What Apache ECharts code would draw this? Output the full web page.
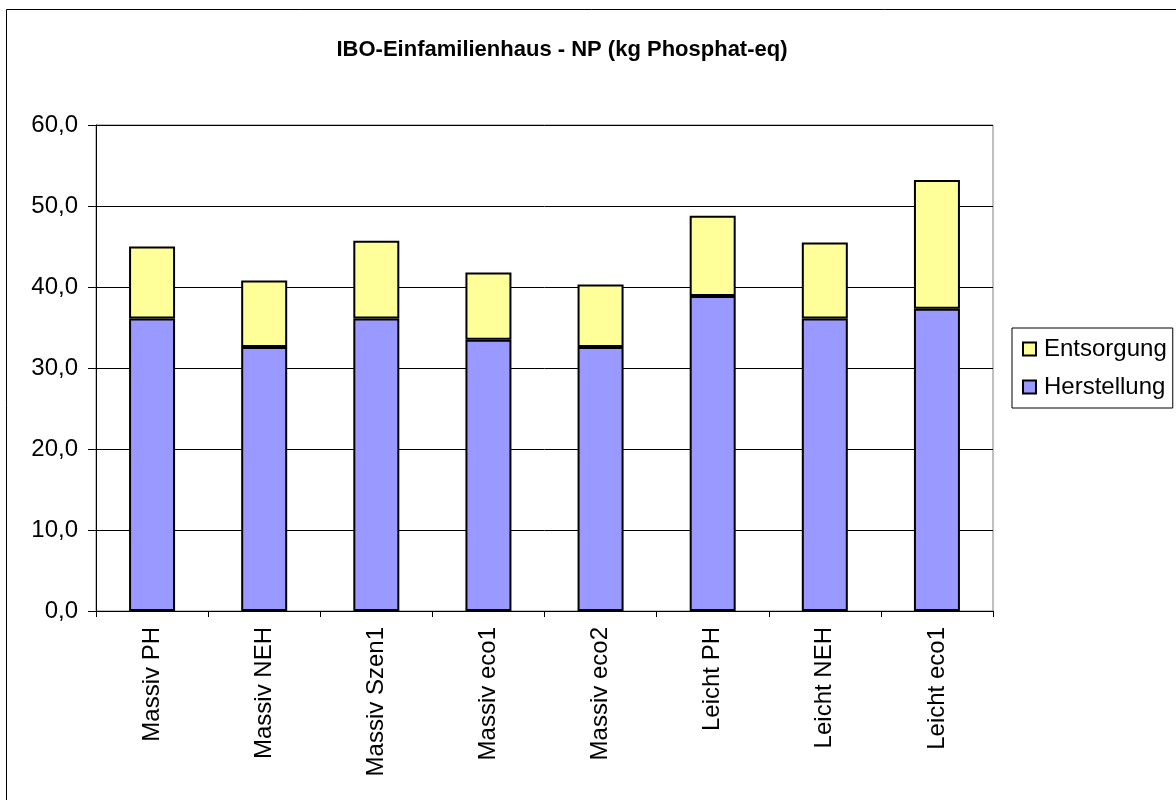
<!DOCTYPE html>
<html>
<head>
<meta charset="utf-8">
<script src="https://cdn.jsdelivr.net/npm/echarts@6/dist/echarts.min.js"></script>
<style>
html,body{margin:0;padding:0;background:#fff;}
#chart{width:1176px;height:800px;}
</style>
</head>
<body>
<div id="chart"></div>
<script>
const titleText = 'IBO-Einfamilienhaus - NP (kg Phosphat-eq)';
const categories = ['Massiv PH','Massiv NEH','Massiv Szen1','Massiv eco1','Massiv eco2','Leicht PH','Leicht NEH','Leicht eco1'];
const herstellung = [36.1, 32.6, 36.1, 33.5, 32.6, 38.9, 36.1, 37.3];
const entsorgung = [8.9, 8.2, 9.6, 8.3, 7.7, 9.9, 9.4, 15.9];
const seriesNames = ['Herstellung', 'Entsorgung'];

const font = '"Liberation Sans", Arial, sans-serif';
const chart = echarts.init(document.getElementById('chart'), null, {renderer:'canvas'});
chart.setOption({
  animation: false,
  backgroundColor: '#fff',
  textStyle: {fontFamily: font},
  title: {
    text: titleText,
    left: 557, top: 34, textAlign: 'center',
    textStyle: {fontFamily: font, fontSize: 22, fontWeight: 'bold', color: '#000'}
  },
  graphic: [{
    type: 'rect', silent: true, z: -1,
    shape: {x: 6.5, y: 9.5, width: 1300, height: 1000},
    style: {fill: 'none', stroke: '#000', lineWidth: 1}
  }],
  legend: {
    orient: 'vertical',
    left: 1012, top: 328,
    width: 162,
    data: [seriesNames[1], seriesNames[0]],
    backgroundColor: '#fff',
    borderColor: '#000', borderWidth: 1,
    padding: [9, 6, 9, 10],
    itemWidth: 13, itemHeight: 13, itemGap: 14,
    icon: 'rect',
    textStyle: {fontFamily: font, fontSize: 24, color: '#000', padding: [0,0,0,3]},
    selectedMode: false
  },
  grid: {
    left: 96, right: 183, top: 125, bottom: 189,
    show: true, borderColor: '#808080', borderWidth: 1
  },
  xAxis: {
    type: 'category',
    data: categories,
    axisLine: {lineStyle: {color: '#000', width: 1}},
    axisTick: {show: true, alignWithLabel: false, length: 6, lineStyle: {color: '#000'}},
    axisLabel: {rotate: 90, fontSize: 24, color: '#000', margin: 16, fontFamily: font, interval: 0},
    splitLine: {show: false}
  },
  yAxis: {
    type: 'value',
    min: 0, max: 60, interval: 10,
    axisLine: {show: true, lineStyle: {color: '#000', width: 1}},
    axisTick: {show: true, inside: false, length: 8, lineStyle: {color: '#000'}},
    axisLabel: {fontSize: 24, color: '#000', margin: 18, fontFamily: font,
      formatter: v => v.toFixed(1).replace('.', ',')},
    splitLine: {show: true, lineStyle: {color: '#000', width: 1}}
  },
  series: [
    {
      name: seriesNames[0], type: 'bar', stack: 'total', barWidth: 46,
      data: herstellung,
      itemStyle: {color: '#9999FF', borderColor: '#000', borderWidth: 2}
    },
    {
      name: seriesNames[1], type: 'bar', stack: 'total', barWidth: 46,
      data: entsorgung,
      itemStyle: {color: '#FFFF99', borderColor: '#000', borderWidth: 2}
    }
  ]
});
</script>
</body>
</html>
